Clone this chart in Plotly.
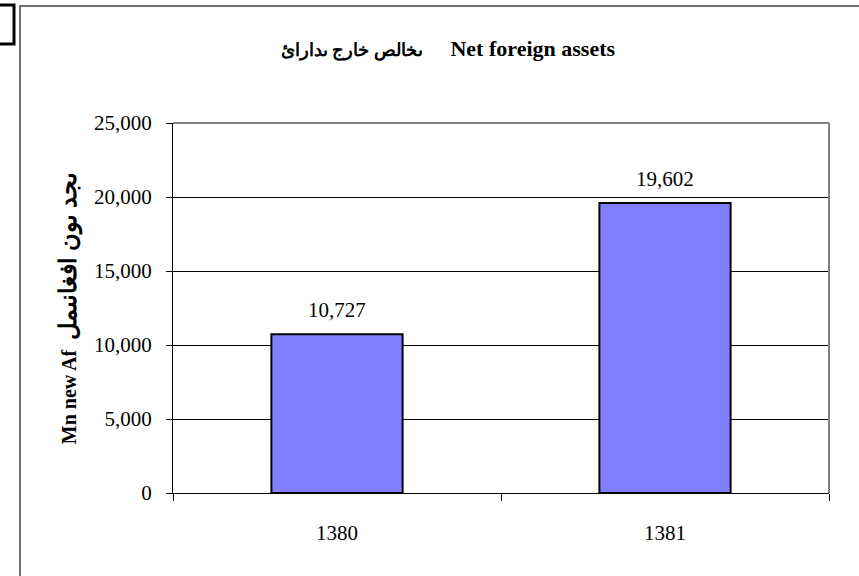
import plotly.graph_objects as go

categories = ["1380", "1381"]
values = [10727, 19602]
labels = ["10,727", "19,602"]
yticks = [0, 5000, 10000, 15000, 20000, 25000]
yticklabels = ["0", "5,000", "10,000", "15,000", "20,000", "25,000"]

title_ar = "ىخالص خارج ىدارائ"
title_en = "Net foreign assets"
ytitle_en = "Mn new Af"
ytitle_ar = "ىجد ىون افغانىمل"

W, H = 859, 576
L, R, T, B = 173, 829, 123, 493

def px(x):
    return (x - L) / (R - L)

def py(y):
    return (B - y) / (B - T)

fig = go.Figure()
fig.add_trace(go.Bar(
    x=categories, y=values,
    marker=dict(color="#8080FF", line=dict(color="black", width=2)),
    hoverinfo="skip",
))

annotations = [
    dict(x=i, y=v, xref="x", yref="y", text=t, showarrow=False,
         yshift=24, yanchor="middle",
         font=dict(family="Liberation Serif", size=21, color="black"))
    for i, (v, t) in enumerate(zip(values, labels))
]

title_html = ("<b><span style='font-size:18px'>" + title_ar +
              "</span>     " + title_en + "</b>")
ytitle_html = ("<b>" + ytitle_en + "  <span style='font-size:24px'>" + ytitle_ar + "</span></b>")

fig.update_layout(
    width=W, height=H,
    margin=dict(l=L, r=W - R, t=T, b=H - B, pad=0),
    paper_bgcolor="white", plot_bgcolor="white",
    bargap=0.6,
    showlegend=False,
    font=dict(family="Liberation Serif", color="black"),
    title=dict(text=title_html, x=448 / W, xanchor="center",
               y=1 - 48 / H, yanchor="middle",
               font=dict(family="Liberation Serif", size=22, color="black")),
    xaxis=dict(
        type="category",
        range=[-0.5, len(categories) - 0.5],
        automargin=False,
        showline=True, linecolor="black", linewidth=1, mirror=False,
        ticks="outside", tickson="boundaries", ticklen=7, tickcolor="black",
        tickfont=dict(family="Liberation Serif", size=21, color="black"),
        tickangle=0,
        ticklabelstandoff=21,
        showgrid=False, zeroline=False,
    ),
    yaxis=dict(
        automargin=False,
        range=[0, 25000], tickvals=yticks, ticktext=yticklabels,
        showline=True, linecolor="black", linewidth=1,
        ticks="outside", ticklen=6, tickcolor="black",
        tickfont=dict(family="Liberation Serif", size=21, color="black"),
        ticklabelstandoff=10,
        showgrid=True, gridcolor="black", gridwidth=1, zeroline=False,
        title=dict(text=ytitle_html, standoff=12,
                   font=dict(family="Liberation Serif", size=20, color="black")),
    ),
    annotations=annotations,
    shapes=[
        dict(type="line", xref="paper", yref="paper", x0=0, x1=1, y0=1, y1=1,
             line=dict(color="#808080", width=2)),
        dict(type="line", xref="paper", yref="paper", x0=1, x1=1, y0=0, y1=1,
             line=dict(color="#808080", width=2)),
        dict(type="rect", xref="paper", yref="paper",
             x0=px(20), x1=px(870), y0=py(6), y1=py(590),
             line=dict(color="#404040", width=1.5)),
        dict(type="rect", xref="paper", yref="paper",
             x0=px(-10), x1=px(14), y0=py(5), y1=py(44),
             line=dict(color="black", width=3)),
    ],
)

fig.write_html("out.html", config={"displayModeBar": False},
               post_script="document.body.style.margin='0';document.body.style.padding='0';")
